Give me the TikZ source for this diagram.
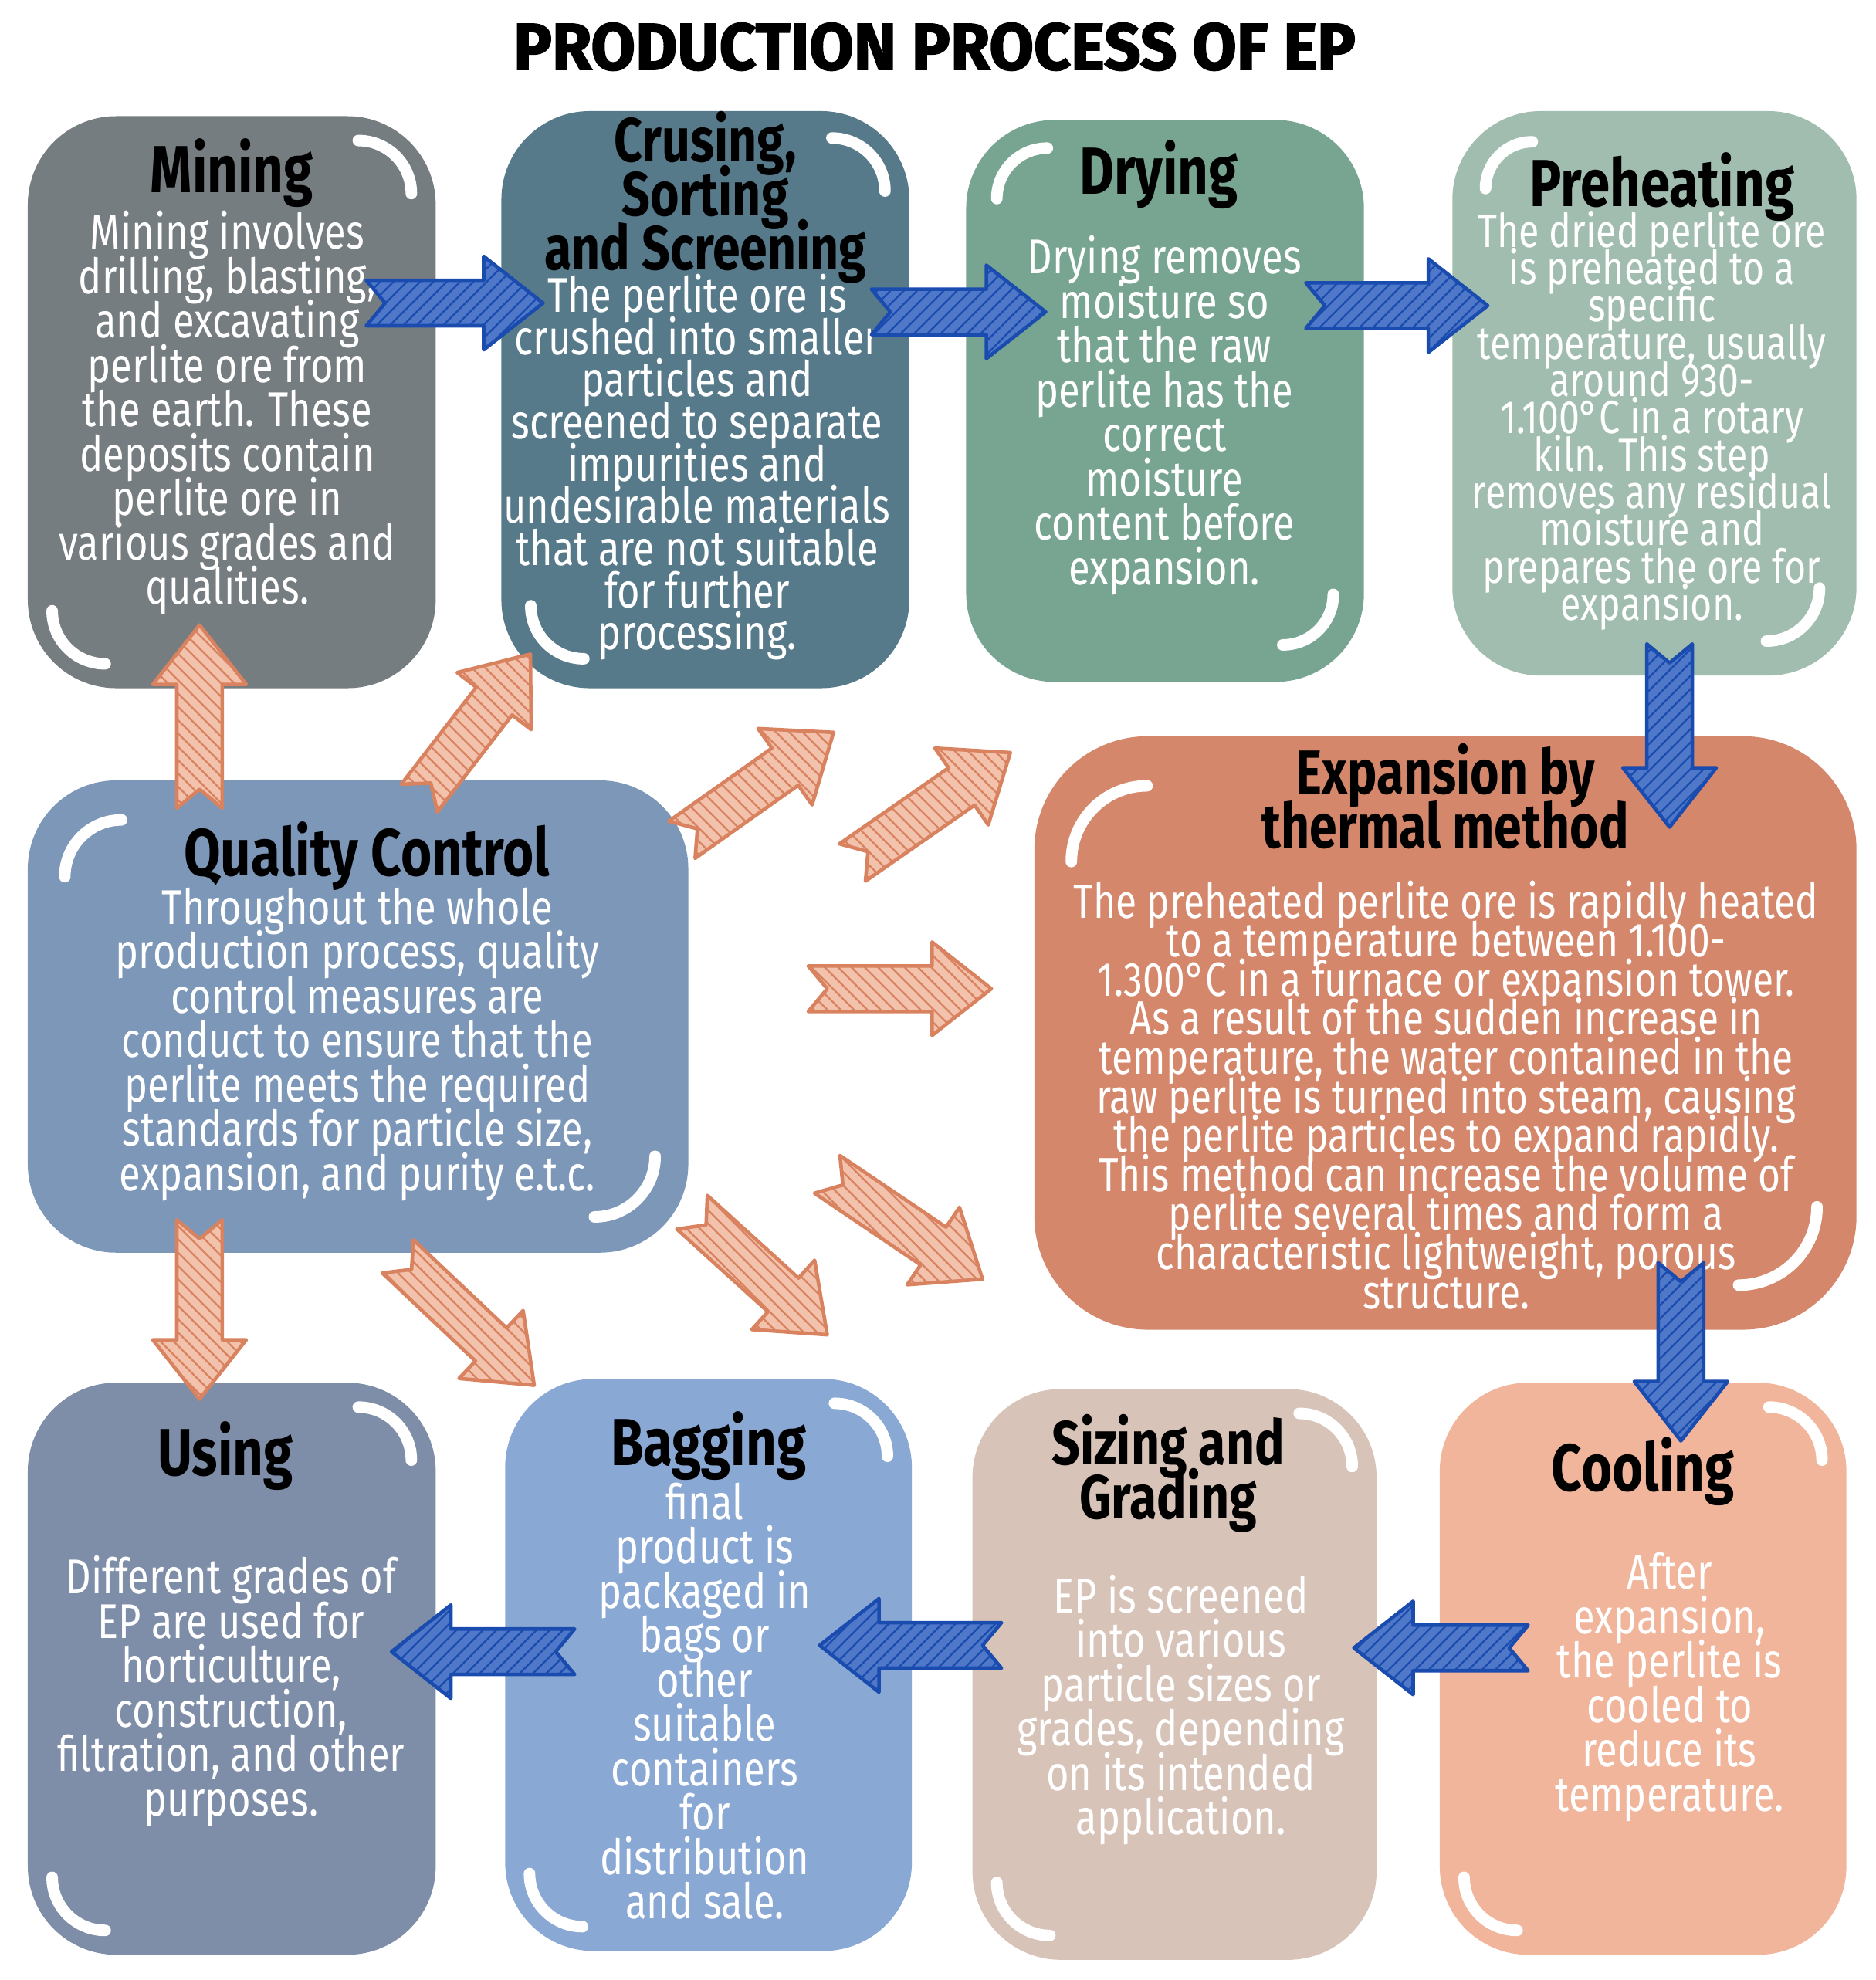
\documentclass[tikz,border=0pt]{standalone}
\usepackage{fontspec}
\setmainfont{Fira Sans}[FakeStretch=0.8]
\newfontfamily\titlefont{Fira Sans}[FakeBold=2]
\usepackage{xcolor}
\usepackage{graphicx}
\usepackage{tikz}
\usetikzlibrary{calc, patterns, positioning}
\lineskiplimit=-100pt

\definecolor{cMine}{HTML}{767D80}
\definecolor{cCrush}{HTML}{577A8B}
\definecolor{cDry}{HTML}{78A592}
\definecolor{cPre}{HTML}{A1BDAF}
\definecolor{cQual}{HTML}{7C97B8}
\definecolor{cExp}{HTML}{D4876B}
\definecolor{cUse}{HTML}{7E8EA8}
\definecolor{cBag}{HTML}{89A8D4}
\definecolor{cSize}{HTML}{D8C3B9}
\definecolor{cCool}{HTML}{F1B59C}
\definecolor{cBlue}{HTML}{1A4CB0}
\definecolor{cBlueL}{HTML}{4F78C9}
\definecolor{cOra}{HTML}{D9825F}
\definecolor{cOraL}{HTML}{F2C2AD}

% fat notched arrow from #2 to #3
\newcommand{\fatarrow}[3]{%
  \draw[#1] ($(#2)!0.18cm!90:(#3)$) -- ($(#2)!0.15cm!(#3)$) -- ($(#2)!0.18cm!-90:(#3)$)
    -- ($(#3)!0.47cm!(#2)!0.18cm!90:(#2)$) -- ($(#3)!0.47cm!(#2)!0.37cm!90:(#2)$)
    -- (#3) -- ($(#3)!0.47cm!(#2)!0.37cm!-90:(#2)$) -- ($(#3)!0.47cm!(#2)!0.18cm!-90:(#2)$) -- cycle;}

\begin{document}
\begin{tikzpicture}[
    box/.style={rectangle, rounded corners=0.7cm, inner sep=0pt},
    boxtitle/.style={font=\fontsize{15}{11}\selectfont\bfseries, align=center, inner sep=0pt},
    longtitle/.style={boxtitle, font=\fontsize{14}{12.2}\selectfont\bfseries},
    boxtext/.style={text=white, font=\fontsize{11}{10}\selectfont, align=center, inner sep=0pt},
    deco/.style={white, line width=2.6pt, line cap=round},
    bluearrow/.style={draw=cBlue, line width=0.8pt, line join=round, preaction={fill=cBlueL},
                      pattern=north east lines, pattern color=cBlue},
    orangearrow/.style={draw=cOra, line width=0.8pt, line join=round, preaction={fill=cOraL},
                        pattern=north west lines, pattern color=cOra}]

\useasboundingbox (0,0) rectangle (14.85,-15.68);

\node (title) at (7.40,-0.37) {\resizebox{6.67cm}{0.37cm}{\titlefont\bfseries PRODUCTION PROCESS OF EP}};

\node[box, fill=cMine, minimum width=3.23cm, minimum height=4.53cm] (mining) at (1.835,-3.185) {};
\node[box, fill=cCrush, minimum width=3.23cm, minimum height=4.57cm] (crush) at (5.585,-3.165) {};
\node[box, fill=cDry, minimum width=3.15cm, minimum height=4.45cm] (dry) at (9.225,-3.175) {};
\node[box, fill=cPre, minimum width=3.20cm, minimum height=4.47cm] (preheat) at (13.10,-3.115) {};
\node[box, fill=cQual, minimum width=5.23cm, minimum height=3.74cm] (qc) at (2.835,-8.05) {};
\node[box, fill=cExp, minimum width=6.51cm, minimum height=4.70cm, rounded corners=0.9cm] (expand) at (11.445,-8.18) {};
\node[box, fill=cUse, minimum width=3.23cm, minimum height=4.53cm] (use) at (1.835,-13.215) {};
\node[box, fill=cBag, minimum width=3.22cm, minimum height=4.53cm] (bag) at (5.61,-13.185) {};
\node[box, fill=cSize, minimum width=3.20cm, minimum height=4.52cm] (size) at (9.30,-13.26) {};
\node[box, fill=cCool, minimum width=3.22cm, minimum height=4.53cm] (cool) at (13.01,-13.215) {};

\node[boxtitle, below=0.18cm of mining.north] (mining-t) {Mining};
\node[longtitle, below=0.0cm of crush.north] (crush-t) {Crusing,\\Sorting\\and Screening};
\node[boxtitle, below=0.16cm of dry.north, xshift=-0.05cm] (dry-t) {Drying};
\node[boxtitle, below=0.33cm of preheat.north, xshift=0.06cm] (preheat-t) {Preheating};
\node[boxtitle, below=0.33cm of qc.north, xshift=0.07cm] (qc-t) {Quality Control};
\node[longtitle, below=0.06cm of expand.north] (expand-t) {Expansion by\\thermal method};
\node[boxtitle, below=0.31cm of use.north, xshift=-0.05cm] (use-t) {Using};
\node[boxtitle, below=0.26cm of bag.north] (bag-t) {Bagging};
\node[longtitle, below=0.2cm of size.north, xshift=-0.05cm] (size-t) {Sizing and\\Grading};
\node[boxtitle, below=0.43cm of cool.north] (cool-t) {Cooling};

\node[boxtext] (mining-b) at (1.80,-3.27) {Mining involves\\drilling, blasting,\\and excavating\\perlite ore from\\the earth. These\\deposits contain\\perlite ore in\\various grades and\\qualities.};
\node[boxtext, font=\fontsize{11}{9.5}\selectfont] (crush-b) at (5.52,-3.70) {The perlite ore is\\crushed into smaller\\particles and\\screened to separate\\impurities and\\undesirable materials\\that are not suitable\\for further\\processing.};
\node[boxtext] (dry-b) at (9.22,-3.29) {Drying removes\\moisture so\\that the raw\\perlite has the\\correct\\moisture\\content before\\expansion.};
\node[boxtext, font=\fontsize{10.5}{8.4}\selectfont] (preheat-b) at (13.08,-3.33) {The dried perlite ore\\is preheated to a\\specific\\temperature, usually\\around 930-\\1.100°C in a rotary\\kiln. This step\\removes any residual\\moisture and\\prepares the ore for\\expansion.};
\node[boxtext] (qc-b) at (2.83,-8.27) {Throughout the whole\\production process, quality\\control measures are\\conduct to ensure that the\\perlite meets the required\\standards for particle size,\\expansion, and purity e.t.c.};
\node[boxtext, font=\fontsize{10.8}{8.8}\selectfont] (expand-b) at (11.45,-8.67) {The preheated perlite ore is rapidly heated\\to a temperature between 1.100-\\1.300°C in a furnace or expansion tower.\\As a result of the sudden increase in\\temperature, the water contained in the\\raw perlite is turned into steam, causing\\the perlite particles to expand rapidly.\\This method can increase the volume of\\perlite several times and form a\\characteristic lightweight, porous\\structure.};
\node[boxtext] (use-b) at (1.83,-13.39) {Different grades of\\EP are used for\\horticulture,\\construction,\\filtration, and other\\purposes.};
\node[boxtext] (bag-b) at (5.58,-13.47) {final\\product is\\packaged in\\bags or\\other\\suitable\\containers\\for\\distribution\\and sale.};
\node[boxtext] (size-b) at (9.35,-13.54) {EP is screened\\into various\\particle sizes or\\grades, depending\\on its intended\\application.};
\node[boxtext] (cool-b) at (13.22,-13.36) {After\\expansion,\\the perlite is\\cooled to\\reduce its\\temperature.};

\draw[deco] ($(mining.north east)+(-0.62,-0.2)$) arc[start angle=90, end angle=0, radius=0.42];
\draw[deco] ($(mining.south west)+(0.2,0.62)$) arc[start angle=180, end angle=270, radius=0.42];
\draw[deco] ($(crush.north east)+(-0.62,-0.22)$) arc[start angle=90, end angle=0, radius=0.42];
\draw[deco] ($(crush.south west)+(0.24,0.66)$) arc[start angle=180, end angle=270, radius=0.42];
\draw[deco] ($(dry.north west)+(0.25,-0.63)$) arc[start angle=180, end angle=90, radius=0.4];
\draw[deco] ($(dry.south east)+(-0.25,0.7)$) arc[start angle=0, end angle=-90, radius=0.4];
\draw[deco] ($(preheat.north west)+(0.27,-0.62)$) arc[start angle=180, end angle=90, radius=0.37];
\draw[deco] ($(preheat.south east)+(-0.3,0.7)$) arc[start angle=0, end angle=-90, radius=0.42];
\draw[deco] ($(qc.north west)+(0.3,-0.77)$) arc[start angle=180, end angle=90, radius=0.45];
\draw[deco] ($(qc.south east)+(-0.27,0.77)$) arc[start angle=0, end angle=-90, radius=0.48];
\draw[deco] ($(expand.north west)+(0.3,-1.0)$) arc[start angle=180, end angle=90, radius=0.6];
\draw[deco] ($(expand.south east)+(-0.32,0.98)$) arc[start angle=0, end angle=-90, radius=0.62];
\draw[deco] ($(use.north east)+(-0.62,-0.2)$) arc[start angle=90, end angle=0, radius=0.42];
\draw[deco] ($(use.south west)+(0.2,0.62)$) arc[start angle=180, end angle=270, radius=0.42];
\draw[deco] ($(bag.north east)+(-0.62,-0.2)$) arc[start angle=90, end angle=0, radius=0.42];
\draw[deco] ($(bag.south west)+(0.2,0.62)$) arc[start angle=180, end angle=270, radius=0.42];
\draw[deco] ($(size.north east)+(-0.62,-0.2)$) arc[start angle=90, end angle=0, radius=0.42];
\draw[deco] ($(size.south west)+(0.2,0.62)$) arc[start angle=180, end angle=270, radius=0.42];
\draw[deco] ($(cool.north east)+(-0.62,-0.2)$) arc[start angle=90, end angle=0, radius=0.42];
\draw[deco] ($(cool.south west)+(0.2,0.62)$) arc[start angle=180, end angle=270, radius=0.42];

\coordinate (mc1) at (2.90,-2.40);  \coordinate (mc2) at (4.30,-2.40);
\coordinate (cd1) at (6.90,-2.47);  \coordinate (cd2) at (8.28,-2.47);
\coordinate (dp1) at (10.34,-2.42); \coordinate (dp2) at (11.78,-2.42);
\coordinate (pe1) at (13.22,-5.10); \coordinate (pe2) at (13.22,-6.55);
\coordinate (ec1) at (13.31,-10.00); \coordinate (ec2) at (13.31,-11.41);
\coordinate (cs1) at (12.10,-13.05); \coordinate (cs2) at (10.72,-13.05);
\coordinate (sb1) at (7.93,-13.03); \coordinate (sb2) at (6.49,-13.03);
\coordinate (bu1) at (4.55,-13.08); \coordinate (bu2) at (3.10,-13.08);

\coordinate (qm1) at (1.58,-6.40); \coordinate (qm2) at (1.58,-4.95);
\coordinate (qc1) at (3.32,-6.32); \coordinate (qc2) at (4.20,-5.18);
\coordinate (qd1) at (5.40,-6.65); \coordinate (qd2) at (6.60,-5.80);
\coordinate (qp1) at (6.75,-6.83); \coordinate (qp2) at (8.00,-5.96);
\coordinate (qe1) at (6.40,-7.83); \coordinate (qe2) at (7.85,-7.83);
\coordinate (qo1) at (6.55,-9.30); \coordinate (qo2) at (7.78,-10.13);
\coordinate (qs1) at (5.48,-9.60); \coordinate (qs2) at (6.55,-10.57);
\coordinate (qb1) at (3.15,-9.95); \coordinate (qb2) at (4.23,-10.97);
\coordinate (qu1) at (1.58,-9.66); \coordinate (qu2) at (1.58,-11.08);

\fatarrow{bluearrow}{mc1}{mc2}
\fatarrow{bluearrow}{cd1}{cd2}
\fatarrow{bluearrow}{dp1}{dp2}
\fatarrow{bluearrow}{pe1}{pe2}
\fatarrow{bluearrow}{ec1}{ec2}
\fatarrow{bluearrow}{cs1}{cs2}
\fatarrow{bluearrow}{sb1}{sb2}
\fatarrow{bluearrow}{bu1}{bu2}

\fatarrow{orangearrow}{qm1}{qm2}
\fatarrow{orangearrow}{qc1}{qc2}
\fatarrow{orangearrow}{qd1}{qd2}
\fatarrow{orangearrow}{qp1}{qp2}
\fatarrow{orangearrow}{qe1}{qe2}
\fatarrow{orangearrow}{qo1}{qo2}
\fatarrow{orangearrow}{qs1}{qs2}
\fatarrow{orangearrow}{qb1}{qb2}
\fatarrow{orangearrow}{qu1}{qu2}
\end{tikzpicture}
\end{document}
